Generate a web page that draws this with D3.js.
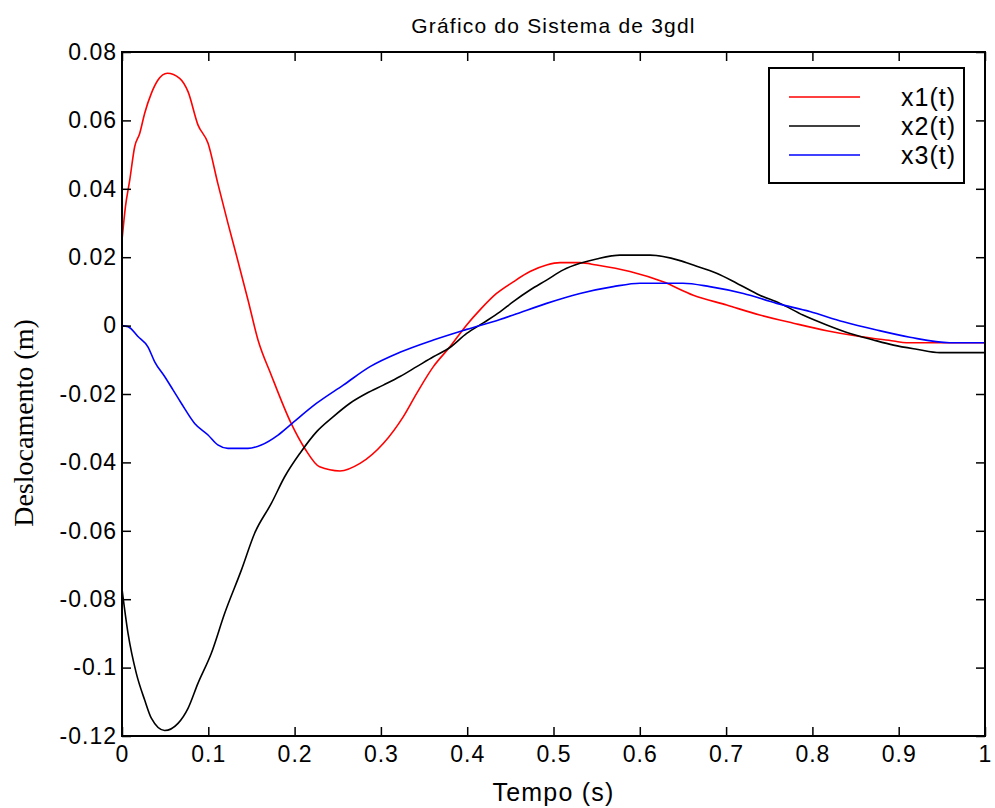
<!DOCTYPE html>
<html>
<head>
<meta charset="utf-8">
<script src="https://cdn.jsdelivr.net/npm/d3@7"></script>
<style>
  body { margin: 0; background: #fff; }
  svg { display: block; }
  .tick text { font-family: "Liberation Sans", Arial, sans-serif; }
</style>
</head>
<body>
<svg id="chart"></svg>
<script>
// dados (tempo em s, deslocamento em m)
const t1 = [0, 0.004, 0.009, 0.0147, 0.0205, 0.0263, 0.034, 0.0417, 0.0525, 0.0668, 0.0765, 0.088, 0.0997, 0.111, 0.1228, 0.134, 0.146, 0.1576, 0.173, 0.196, 0.212, 0.229, 0.2526, 0.2758, 0.303, 0.326, 0.3415, 0.3608, 0.38, 0.3994, 0.4148, 0.434, 0.4534, 0.4728, 0.492, 0.5075, 0.5307, 0.55, 0.5886, 0.627, 0.662, 0.7007, 0.739, 0.778, 0.8166, 0.855, 0.894, 0.909, 1.0];
const x1 = [0.025, 0.0348, 0.0426, 0.0523, 0.0562, 0.0621, 0.0679, 0.0718, 0.0738, 0.0723, 0.0684, 0.0587, 0.0533, 0.0416, 0.0299, 0.0192, 0.0075, -0.0042, -0.0145, -0.0286, -0.036, -0.0413, -0.0425, -0.0403, -0.0344, -0.0266, -0.0198, -0.012, -0.0062, 0.0002, 0.0046, 0.0094, 0.0128, 0.0158, 0.0177, 0.0184, 0.0184, 0.0177, 0.0158, 0.0128, 0.0089, 0.006, 0.0031, 0.0007, -0.0015, -0.0032, -0.0045, -0.005, -0.005];

const t2 = [0, 0.007, 0.0166, 0.0263, 0.034, 0.0494, 0.0649, 0.0765, 0.088, 0.1035, 0.119, 0.1383, 0.1537, 0.173, 0.1885, 0.2063, 0.2256, 0.2449, 0.2642, 0.2835, 0.3028, 0.3221, 0.3415, 0.3608, 0.38, 0.3994, 0.4187, 0.438, 0.4534, 0.4728, 0.492, 0.5114, 0.5307, 0.55, 0.577, 0.6118, 0.6466, 0.662, 0.689, 0.7123, 0.739, 0.7625, 0.789, 0.8166, 0.8436, 0.8706, 0.894, 0.9208, 0.9478, 1.0];
const x2 = [-0.077, -0.09, -0.1017, -0.1095, -0.1148, -0.1184, -0.1163, -0.1119, -0.1046, -0.0958, -0.0841, -0.0715, -0.0607, -0.052, -0.0442, -0.0373, -0.031, -0.0266, -0.0227, -0.0198, -0.0174, -0.0149, -0.012, -0.0091, -0.0064, -0.0023, 0.0008, 0.004, 0.007, 0.0104, 0.0133, 0.0163, 0.0182, 0.0195, 0.0206, 0.0206, 0.019, 0.0177, 0.0153, 0.0124, 0.0089, 0.0065, 0.0031, 0.0002, -0.0023, -0.0042, -0.0057, -0.0069, -0.0079, -0.0079];

const t3 = [0, 0.007, 0.0185, 0.03, 0.0379, 0.0494, 0.0591, 0.0687, 0.0842, 0.0997, 0.111, 0.1228, 0.146, 0.1614, 0.1808, 0.1947, 0.2256, 0.2564, 0.2874, 0.3221, 0.3608, 0.3994, 0.438, 0.4534, 0.492, 0.5307, 0.5693, 0.6002, 0.65, 0.681, 0.72, 0.7586, 0.797, 0.836, 0.8745, 0.913, 0.959, 1.0];
const x3 = [0, -0.0003, -0.0032, -0.0062, -0.0106, -0.0149, -0.0188, -0.0227, -0.0286, -0.032, -0.0349, -0.0359, -0.0359, -0.0349, -0.032, -0.0291, -0.0227, -0.0174, -0.012, -0.0078, -0.0042, -0.0011, 0.0018, 0.0031, 0.0065, 0.0094, 0.0114, 0.0124, 0.0124, 0.0114, 0.0094, 0.0065, 0.0041, 0.0011, -0.0013, -0.0034, -0.005, -0.005];

const seriesNames = ["x1(t)", "x2(t)", "x3(t)"];
const seriesColors = ["#ff0000", "#000000", "#0000ff"];
const xTicks = [0, 0.1, 0.2, 0.3, 0.4, 0.5, 0.6, 0.7, 0.8, 0.9, 1];
const yTicks = [0.08, 0.06, 0.04, 0.02, 0, -0.02, -0.04, -0.06, -0.08, -0.1, -0.12];

const W = 995, H = 808;
const margin = { top: 52, right: 10, bottom: 72, left: 122 },
  width = 985 - margin.left,
  height = 736 - margin.top;

const svg = d3.select("#chart").attr("width", W).attr("height", H);
const g = svg.append("g").attr("transform", `translate(${margin.left},${margin.top})`);

const x = d3.scaleLinear().domain([0, 1]).range([0, width]);
const y = d3.scaleLinear().domain([-0.12, 0.08]).range([height, 0]);

const fmt = (d) => (d === 0 ? "0" : String(+d.toFixed(2)));

// curvas
const series = [
  t1.map((t, i) => [t, x1[i]]),
  t2.map((t, i) => [t, x2[i]]),
  t3.map((t, i) => [t, x3[i]]),
];
const line = d3.line().curve(d3.curveMonotoneX).x((d) => x(d[0])).y((d) => y(d[1]));
series.forEach((s, i) => {
  g.append("path")
    .datum(s)
    .attr("fill", "none")
    .attr("stroke", seriesColors[i])
    .attr("stroke-width", 1.6)
    .attr("d", line);
});

// eixos com marcas para dentro
function styleAxis(sel) {
  sel.select(".domain").remove();
  sel.selectAll(".tick line").attr("stroke", "#000").attr("stroke-width", 1.5);
  sel.selectAll(".tick text").attr("fill", "#000").attr("font-size", "23px").attr("letter-spacing", "1px");
}
g.append("g").attr("transform", `translate(0,${height})`)
  .call(d3.axisBottom(x).tickValues(xTicks).tickFormat(fmt).tickSize(-9).tickPadding(10))
  .call(styleAxis);
g.append("g")
  .call(d3.axisTop(x).tickValues(xTicks).tickFormat("").tickSize(-9))
  .call(styleAxis);
g.append("g")
  .call(d3.axisLeft(y).tickValues(yTicks).tickFormat(fmt).tickSize(-9).tickPadding(5))
  .call(styleAxis);
g.append("g").attr("transform", `translate(${width},0)`)
  .call(d3.axisRight(y).tickValues(yTicks).tickFormat("").tickSize(-9))
  .call(styleAxis);

g.append("rect")
  .attr("width", width).attr("height", height)
  .attr("fill", "none").attr("stroke", "#000").attr("stroke-width", 2);

// títulos
svg.append("text")
  .attr("x", margin.left + width / 2).attr("y", 33)
  .attr("text-anchor", "middle")
  .attr("font-family", "Liberation Sans, Arial, sans-serif")
  .attr("font-size", "21px").attr("letter-spacing", "1.2px")
  .text("Gráfico do Sistema de 3gdl");

svg.append("text")
  .attr("x", margin.left + width / 2).attr("y", 801)
  .attr("text-anchor", "middle")
  .attr("font-family", "Liberation Sans, Arial, sans-serif")
  .attr("font-size", "25px").attr("letter-spacing", "1.2px")
  .text("Tempo (s)");

svg.append("text")
  .attr("transform", `translate(33,423) rotate(-90)`)
  .attr("text-anchor", "middle")
  .attr("font-family", "Liberation Serif, Times New Roman, serif")
  .attr("font-size", "28px")
  .text("Deslocamento (m)");

// legenda
const legend = svg.append("g").attr("transform", "translate(769,68)");
legend.append("rect")
  .attr("width", 195).attr("height", 115)
  .attr("fill", "#fff").attr("stroke", "#000").attr("stroke-width", 2);
seriesNames.forEach((name, i) => {
  const yy = 29 + i * 29;
  legend.append("line")
    .attr("x1", 20).attr("x2", 91).attr("y1", yy).attr("y2", yy)
    .attr("stroke", seriesColors[i]).attr("stroke-width", 1.6);
  legend.append("text")
    .attr("x", 187).attr("y", yy + 9)
    .attr("text-anchor", "end")
    .attr("font-family", "Liberation Sans, Arial, sans-serif")
    .attr("font-size", "25px").attr("letter-spacing", "1px")
    .text(name);
});
</script>
</body>
</html>
